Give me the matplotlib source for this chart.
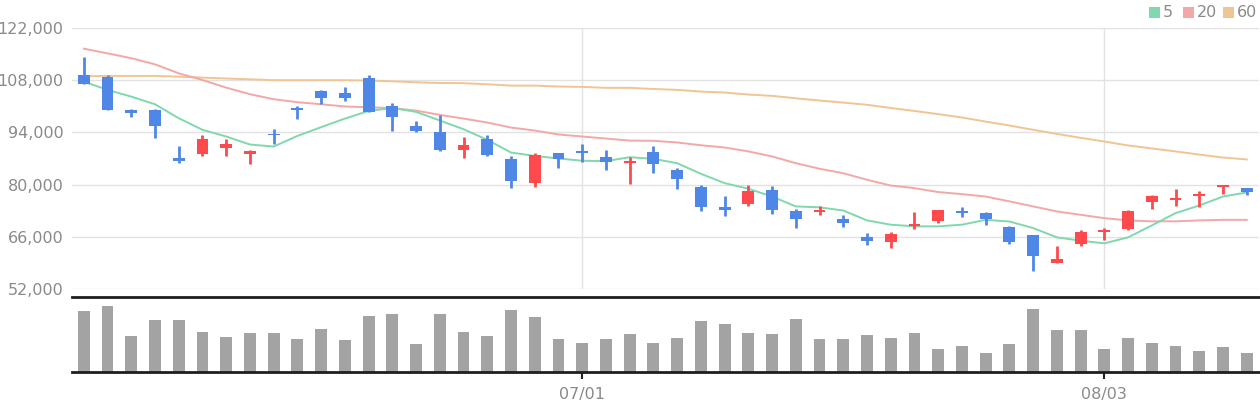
import numpy as np
import matplotlib
matplotlib.use("Agg")
import matplotlib.pyplot as plt
from matplotlib.patches import Rectangle
from matplotlib.ticker import FuncFormatter

# --- data (price in KRW) ---
opens = [109300, 108900, 100000, 100000, 87200, 88300, 89900, 88300, 93700, 100500,
         105100, 104600, 108600, 101100, 95700, 94100, 89300, 92300, 86900, 80500,
         88500, 89100, 87400, 85800, 88800, 84000, 79400, 74100, 74900, 78600,
         73000, 72700, 70800, 66000, 64700, 69000, 70300, 73000, 72400, 68700,
         66600, 59100, 64100, 67400, 68200, 75400, 75900, 77000, 79400, 79100]
highs = [114200, 109300, 100300, 100300, 90400, 93300, 92300, 89200, 94900, 101100,
         105400, 106200, 109300, 101800, 97100, 98700, 92800, 93300, 87700, 88500,
         88500, 90900, 89300, 87400, 90400, 84500, 79900, 77000, 79900, 79700,
         73500, 74300, 71900, 67100, 67400, 72700, 73200, 74100, 72700, 69000,
         66600, 63600, 67900, 68400, 73200, 77300, 78900, 78300, 79900, 79100]
lows = [107100, 99900, 98000, 92600, 85700, 87800, 87800, 85400, 91000, 97700,
        101600, 102500, 99500, 94400, 94100, 89100, 87200, 87700, 79100, 79400,
        84500, 86100, 84000, 80200, 83200, 78900, 73000, 71600, 74300, 72200,
        68400, 71900, 68700, 63900, 63100, 68200, 69800, 71400, 69200, 64100,
        56900, 59100, 63600, 65200, 67900, 73500, 74300, 74100, 77500, 77300]
closes = [107100, 100100, 99300, 95800, 86200, 92300, 91000, 88900, 93200, 99900,
          103300, 103300, 99600, 98000, 94400, 89300, 90700, 88000, 81000, 88000,
          86900, 88500, 86100, 86400, 85600, 81600, 74100, 73200, 78300, 73200,
          70800, 73200, 69800, 64900, 66800, 69500, 73200, 72400, 70800, 64700,
          60900, 60100, 67400, 67900, 73000, 77000, 76500, 77500, 79900, 78100]

ma5 = [107600, 105400, 103600, 101550, 97800, 94700, 92900, 90750, 90200, 93050,
       95400, 97700, 99750, 100550, 99500, 97200, 94850, 92000, 88600, 87700,
       87000, 86400, 86300, 87350, 86900, 85750, 82900, 80400, 78900, 76800,
       74150, 73900, 73050, 70400, 69250, 68800, 68800, 69250, 70550, 70100,
       68350, 65850, 64950, 64250, 65850, 69050, 72350, 74400, 76800, 77900]
ma20 = [116450, 115200, 113900, 112250, 109850, 108050, 106000, 104250, 102900, 102100,
        101550, 100950, 100750, 100500, 99850, 98700, 97700, 96650, 95300, 94500,
        93450, 92900, 92350, 91800, 91750, 91300, 90550, 89950, 88900, 87550,
        85750, 84250, 83050, 81300, 79750, 79050, 78000, 77450, 76800, 75500,
        74150, 72800, 71900, 71000, 70400, 70150, 70150, 70400, 70550, 70550]
ma60 = [109050, 109150, 109150, 109150, 108950, 108700, 108450, 108250, 108000, 108000,
        108000, 108000, 107900, 107700, 107450, 107250, 107200, 106900, 106550, 106550,
        106300, 106200, 105950, 105950, 105650, 105400, 104950, 104700, 104150, 103800,
        103150, 102550, 102000, 101400, 100550, 99750, 98900, 98000, 96900, 95850,
        94700, 93600, 92550, 91550, 90500, 89700, 88900, 88050, 87250, 86750]

# volume, arbitrary units read as bar heights
volume = [184, 196, 109, 157, 157, 121, 106, 118, 118, 100,
          130, 97, 169, 175, 85, 175, 121, 109, 187, 166,
          100, 88, 100, 115, 88, 103, 154, 145, 118, 115,
          160, 100, 100, 112, 103, 118, 70, 79, 58, 85,
          190, 127, 127, 70, 103, 88, 79, 64, 76, 58]

month_ticks = [21, 43]
month_labels = ["07/01", "08/03"]
price_ticks = [52000, 66000, 80000, 94000, 108000, 122000]

UP = "#fe4a4c"
DOWN = "#4f87e6"
GRID = "#e2e2e2"
TEXT = "#8a8a8a"

fig = plt.figure(figsize=(12.6, 4.0), dpi=100)
ax = fig.add_axes([0.0571, 0.2775, 0.9418, 0.6525])
axv = fig.add_axes([0.0571, 0.07, 0.9418, 0.1875])

n = len(opens)
x = np.arange(n)
w = 0.5

for i in range(n):
    o, h, l, c = opens[i], highs[i], lows[i], closes[i]
    col = UP if c >= o else DOWN
    ax.vlines(i, l, h, color=col, linewidth=2.0, zorder=3)
    bottom = min(o, c)
    height = max(abs(c - o), 500)
    ax.add_patch(Rectangle((i - w / 2, bottom), w, height, facecolor=col,
                           edgecolor="none", zorder=4))

ax.plot(x, ma60, color="#f0c594", linewidth=1.4, zorder=2)
ax.plot(x, ma20, color="#f2a8a8", linewidth=1.4, zorder=2)
ax.plot(x, ma5, color="#80d8ac", linewidth=1.4, zorder=2)

ax.set_xlim(-0.5, n - 0.5)
ax.set_ylim(52000, 122000)
ax.set_yticks(price_ticks)
ax.yaxis.set_major_formatter(FuncFormatter(lambda v, p: f"{int(v):,}"))
ax.set_xticks(month_ticks)
ax.set_xticklabels([])
ax.tick_params(axis="both", length=0, colors=TEXT, labelsize=11.5, pad=6)
ax.grid(True, color=GRID, linewidth=1.0, zorder=0)
for s in ax.spines.values():
    s.set_visible(False)

# legend squares
legend = [("5", "#80d8ac"), ("20", "#f2a8a8"), ("60", "#f0c594")]
lx = [0.9119, 0.9389, 0.9706]
for (lab, col), px in zip(legend, lx):
    fig.patches.append(Rectangle((px, 0.955), 0.0085, 0.027, transform=fig.transFigure,
                                 facecolor=col, edgecolor="none"))
    fig.text(px + 0.011, 0.968, lab, color=TEXT, fontsize=11.5, va="center", ha="left")

axv.bar(x, volume, width=0.5, color="#a3a3a3", zorder=2)
axv.set_xlim(-0.5, n - 0.5)
axv.set_ylim(0, max(volume) * 1.145)
axv.set_yticks([])
axv.set_xticks(month_ticks)
axv.set_xticklabels(month_labels)
axv.tick_params(axis="x", length=5, width=1.5, color="#222222", colors=TEXT,
                labelsize=11.5, pad=6)
axv.tick_params(axis="x", color="#222222")
for k in ["left", "right"]:
    axv.spines[k].set_visible(False)
for k in ["top", "bottom"]:
    axv.spines[k].set_color("#1e1e1e")
    axv.spines[k].set_linewidth(2.0)

fig.savefig("out.png", dpi=100)
